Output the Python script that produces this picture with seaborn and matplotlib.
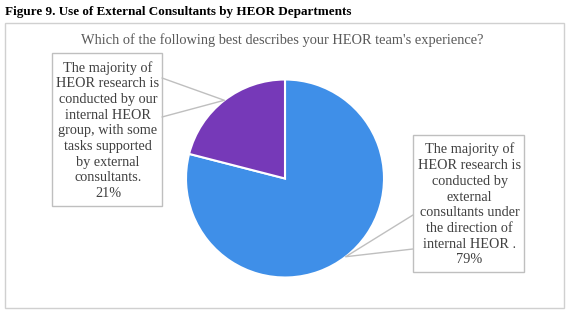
import numpy as np
import seaborn as sns
import matplotlib.pyplot as plt
from matplotlib.patches import Rectangle

# data
labels = ["The majority of\nHEOR research is\nconducted by\nexternal\nconsultants under\nthe direction of\ninternal HEOR .",
          "The majority of\nHEOR research is\nconducted by our\ninternal HEOR\ngroup, with some\ntasks supported\nby external\nconsultants."]
values = [79, 21]
colors = ["#3f8fe8", "#7639b8"]
title = "Figure 9. Use of External Consultants by HEOR Departments"
subtitle = "Which of the following best describes your HEOR team's experience?"

sns.set_theme(style="white")
plt.rcParams['font.family'] = ['Liberation Serif', 'DejaVu Serif']

W, H = 574, 321
fig = plt.figure(figsize=(W / 100, H / 100), dpi=100)

# pie axes placed by pixel center/radius
cx, cy, r = 285, 178.5, 99
pax = fig.add_axes([(cx - r) / W, (H - cy - r) / H, 2 * r / W, 2 * r / H], zorder=1)
wedges, _ = pax.pie(values, colors=colors, startangle=90, counterclock=False,
                    wedgeprops=dict(edgecolor="white", linewidth=1.5))
pax.set_xlim(-1, 1)
pax.set_ylim(-1, 1)
pax.set_aspect("auto")
pax.axis("off")

# overlay in pixel coordinates for text, frame and callouts
ann = fig.add_axes([0, 0, 1, 1], zorder=2)
ann.set_xlim(0, W)
ann.set_ylim(H, 0)
ann.axis("off")
ann.patch.set_alpha(0)

ann.text(5, 12, title, fontsize=9.45, fontweight="bold", color="black", va="center", ha="left")
ann.add_patch(Rectangle((5, 23), 559, 285, fill=False, edgecolor="#d0d0d0", linewidth=1))
ann.text(282, 40, subtitle, fontsize=10.4, color="#595959", va="center", ha="center")

# callout boxes: (x0, y0, x1, y1) in pixels and attach points on box edge
boxes = [(413, 135, 524, 272, 413, (215, 249)),
         (52, 53, 162, 206, 162, (78, 117))]
for w, lab, val, (x0, y0, x1, y1, ex, (ey1, ey2)) in zip(wedges, labels, values, boxes):
    ang = np.deg2rad((w.theta1 + w.theta2) / 2)
    tx = cx + r * np.cos(ang)
    ty = cy - r * np.sin(ang)
    ann.plot([ex, tx, ex], [ey1, ty, ey2], color="#bfbfbf", linewidth=1)
    ann.add_patch(Rectangle((x0, y0), x1 - x0, y1 - y0, facecolor="white",
                            edgecolor="#bfbfbf", linewidth=1))
    ann.text((x0 + x1) / 2 + 1, (y0 + y1) / 2 + 1, f"{lab}\n{val}%", fontsize=10.3,
             color="#404040", ha="center", va="center", linespacing=1.27)

fig.savefig("out.png", dpi=100)
